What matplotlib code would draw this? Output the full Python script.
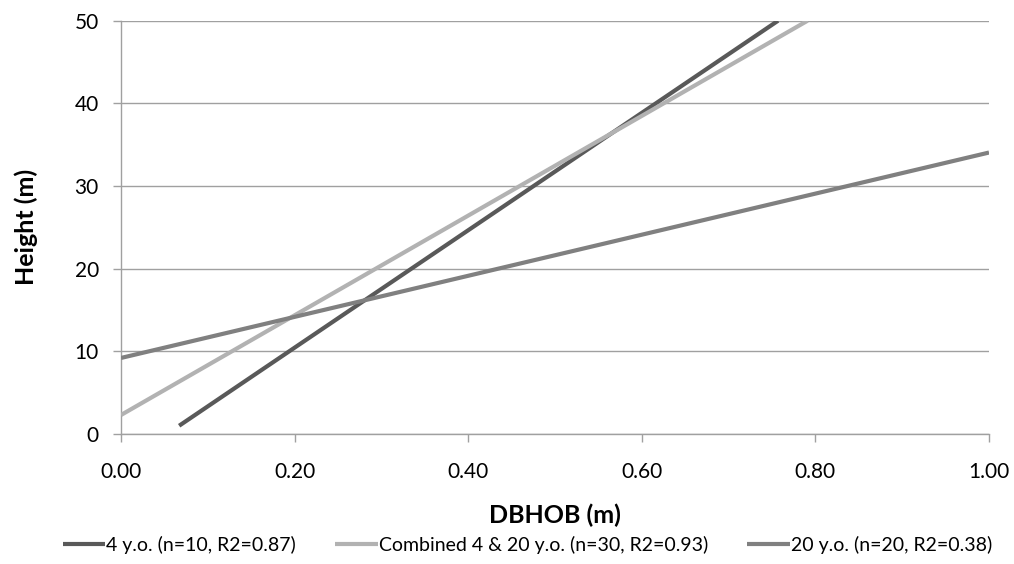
import matplotlib
matplotlib.use("Agg")
import matplotlib.pyplot as plt

plt.rcParams['font.family'] = ['Lato', 'DejaVu Sans']

# Data: fitted regression line endpoints (DBHOB m, Height m)
series_names = ["4 y.o. (n=10, R2=0.87)",
                "Combined 4 & 20 y.o. (n=30, R2=0.93)",
                "20 y.o. (n=20, R2=0.38)"]
x_4yo = [0.067, 0.757]
y_4yo = [1.0, 50.0]
x_comb = [0.0, 0.791]
y_comb = [2.3, 50.0]
x_20yo = [0.0, 1.0]
y_20yo = [9.2, 34.05]
x_ticks = [0.0, 0.2, 0.4, 0.6, 0.8, 1.0]
x_tick_labels = ["0.00", "0.20", "0.40", "0.60", "0.80", "1.00"]
y_ticks = [0, 10, 20, 30, 40, 50]

colors = ["#595959", "#b2b2b2", "#808080"]

fig = plt.figure(figsize=(10.14, 5.64), dpi=100)
ax = fig.add_axes([121/1014, 1 - 434/564, (989-121)/1014, (434-20.7)/564])

for xs, ys, c, lab in zip([x_4yo, x_comb, x_20yo], [y_4yo, y_comb, y_20yo], colors, series_names):
    ax.plot(xs, ys, color=c, lw=3.0, label=lab, solid_capstyle='butt', zorder=3)

ax.set_xlim(0, 1)
ax.set_ylim(0, 50)
ax.set_xticks(x_ticks)
ax.set_xticklabels(x_tick_labels)
ax.set_yticks(y_ticks)
ax.grid(axis='y', color='#a0a0a0', lw=1.0, zorder=0)
for s in ['top', 'right']:
    ax.spines[s].set_visible(False)
for s in ['left', 'bottom']:
    ax.spines[s].set_color('#a0a0a0')
    ax.spines[s].set_linewidth(1.0)
ax.tick_params(axis='both', colors='#a0a0a0', labelcolor='black', labelsize=15,
               length=6, width=1.0, direction='out')
ax.tick_params(axis='x', pad=14)
ax.tick_params(axis='y', pad=10)

ax.set_xlabel("DBHOB (m)", fontsize=18, fontweight='bold', labelpad=16)
ax.set_ylabel("Height (m)", fontsize=18, fontweight='bold', labelpad=26)

fig.legend(loc='center', bbox_to_anchor=(0.52, 1 - 545/564), ncol=3, frameon=False,
           fontsize=14, handlelength=2.2, handletextpad=0.05, columnspacing=2.0)

fig.savefig("out.png", dpi=100)
